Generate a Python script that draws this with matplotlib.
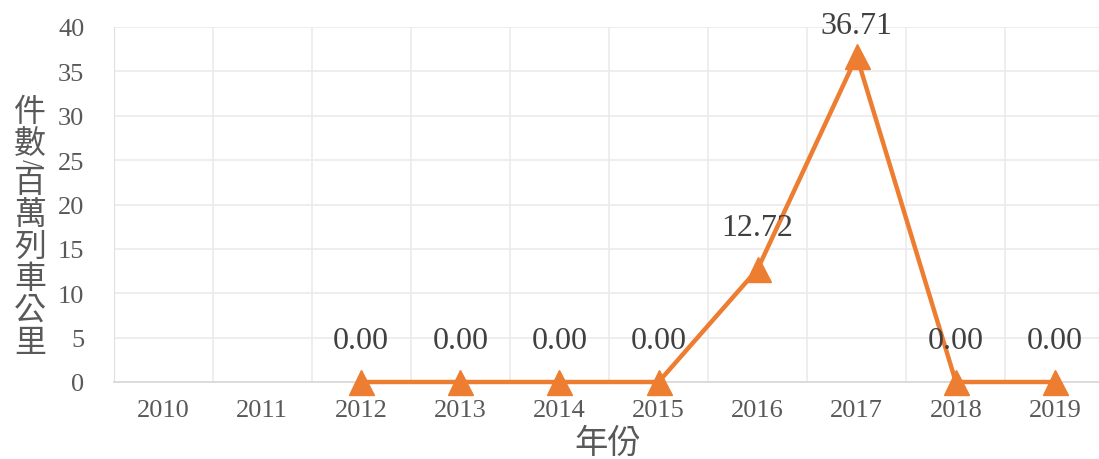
import numpy as np
import matplotlib.pyplot as plt
from matplotlib.ticker import MultipleLocator, FixedLocator

# data
years = ["2010", "2011", "2012", "2013", "2014", "2015", "2016", "2017", "2018", "2019"]
val_years = ["2012", "2013", "2014", "2015", "2016", "2017", "2018", "2019"]
values = [0.00, 0.00, 0.00, 0.00, 12.72, 36.71, 0.00, 0.00]
ylabel_chars = ["件", "數", "/", "百", "萬", "列", "車", "公", "里"]
xlabel = "年份"

orange = "#ED7D31"
grey_text = "#595959"
serif = ["Liberation Serif", "DejaVu Serif"]
cjk = ["Noto Sans CJK TC", "DejaVu Sans"]

fig = plt.figure(figsize=(10.99, 4.6), dpi=100)
ax = fig.add_axes([113.5 / 1099, 77 / 460, 991 / 1099, 355 / 460])

x = np.array([years.index(y) for y in val_years])
ax.plot(x, values, color=orange, lw=3.2, marker="^", ms=18, zorder=3, clip_on=False)

# labels sit above the points, kept inside the top of the chart
for xi, v in zip(x, values):
    ax.text(xi, min(v + 4.7, 40.2), f"{v:.2f}", ha="center", va="center",
            fontsize=23, family=serif, color="#404040", zorder=4)

ax.set_xlim(-0.5, len(years) - 0.5)
ax.set_ylim(0, 40)
ax.yaxis.set_major_locator(MultipleLocator(5))
ax.set_xticks(range(len(years)))
ax.set_xticklabels(years)
ax.xaxis.set_minor_locator(FixedLocator(np.arange(-0.5, len(years), 1)))

ax.grid(True, which="major", axis="y", color="#EBEBEB", lw=1.2)
ax.grid(True, which="minor", axis="x", color="#EBEBEB", lw=1.2)
ax.set_axisbelow(True)

for s in ["top", "right"]:
    ax.spines[s].set_visible(False)
ax.spines["left"].set_color("#E0E0E0")
ax.spines["bottom"].set_color("#D9D9D9")
ax.spines["bottom"].set_linewidth(1.3)

ax.tick_params(axis="both", which="both", length=0)
ax.tick_params(axis="y", pad=21)
ax.tick_params(axis="x", pad=12)
for lab in ax.get_xticklabels() + ax.get_yticklabels():
    lab.set_fontfamily(serif)
    lab.set_fontsize(19)
    lab.set_color(grey_text)

# vertical y-axis title, one character per row
ys = [112, 144, 163, 183, 215, 247, 279, 311, 343]
for ch, yp in zip(ylabel_chars, ys):
    if ch == "/":
        fig.text(30 / 1099, 1 - yp / 460, ch, ha="center", va="center", rotation=-90,
                 fontsize=14, family=cjk, color=grey_text)
    else:
        fig.text(30 / 1099, 1 - yp / 460, ch, ha="center", va="center",
                 fontsize=23, family=cjk, color=grey_text)

fig.text(608 / 1099, 1 - 443 / 460, xlabel, ha="center", va="center",
         fontsize=24, family=cjk, color=grey_text)

fig.savefig("out.png", dpi=100)
